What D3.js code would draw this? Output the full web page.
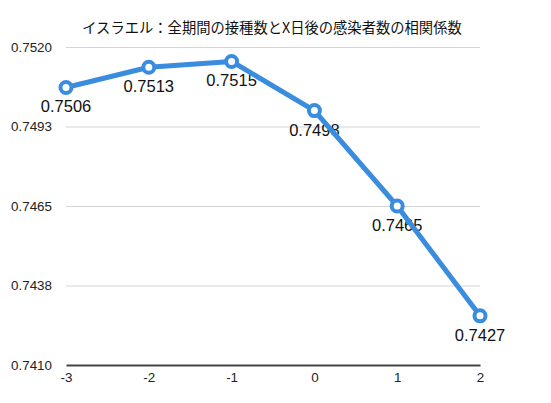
<!DOCTYPE html>
<html>
<head>
<meta charset="utf-8">
<script src="https://cdn.jsdelivr.net/npm/d3@7"></script>
<style>
  body { margin: 0; background: #fff; }
  svg { display: block; }
</style>
</head>
<body>
<svg id="chart"></svg>
<script>
const title = 'イスラエル：全期間の接種数とX日後の感染者数の相関係数';
const days = [-3, -2, -1, 0, 1, 2];
const corr = [0.7506, 0.7513, 0.7515, 0.7498, 0.7465, 0.7427];
const yTicks = [0.7410, 0.74375, 0.7465, 0.74925, 0.7520];
const yTickLabels = ['0.7410', '0.7438', '0.7465', '0.7493', '0.7520'];

const W = 551, H = 403;
const margin = {top: 47, right: 71, bottom: 38, left: 66};
const width = W - margin.left - margin.right;
const height = H - margin.top - margin.bottom;
const blue = '#3a8cde';
const numFont = '"Liberation Sans", Arial, sans-serif';

const svg = d3.select('#chart').attr('width', W).attr('height', H);

svg.append('text')
  .attr('x', 272).attr('y', 33)
  .attr('text-anchor', 'middle')
  .attr('font-family', '"Noto Sans CJK JP", sans-serif')
  .attr('font-size', 14.3)
  .attr('fill', '#111')
  .text(title);

const g = svg.append('g')
  .attr('transform', 'translate(' + margin.left + ',' + margin.top + ')');

const x = d3.scaleLinear().domain([-3, 2]).range([0, width]);
const y = d3.scaleLinear().domain([0.7410, 0.7520]).range([height, 0]);

// gridlines + y labels
const yAxis = g.append('g')
  .call(d3.axisLeft(y).tickValues(yTicks).tickSize(-width).tickPadding(14)
    .tickFormat((d, i) => yTickLabels[i]));
yAxis.select('.domain').remove();
yAxis.selectAll('.tick line').attr('stroke', '#d4d4d4').attr('stroke-width', 1);
yAxis.selectAll('.tick text')
  .attr('font-family', numFont).attr('font-size', 13.4).attr('fill', '#222');
yAxis.selectAll('.tick').filter(d => d === 0.7410).select('line').remove();

// x axis
const xAxis = g.append('g')
  .attr('transform', 'translate(0,' + height + ')')
  .call(d3.axisBottom(x).tickValues(days).tickSize(0).tickPadding(7).tickFormat(d => String(d)));
xAxis.select('.domain').attr('stroke', '#444').attr('stroke-width', 2);
xAxis.selectAll('.tick text')
  .attr('font-family', numFont).attr('font-size', 13.4).attr('fill', '#222');

const data = days.map((d, i) => ({day: d, value: corr[i]}));

// value labels (under the line)
g.selectAll('.val')
  .data(data)
  .enter().append('text')
  .attr('class', 'val')
  .attr('x', d => x(d.day))
  .attr('y', d => y(d.value) + 25)
  .attr('text-anchor', 'middle')
  .attr('font-family', numFont)
  .attr('font-size', 16.5)
  .attr('fill', '#111')
  .text(d => d3.format('.4f')(d.value));

g.append('path')
  .datum(data)
  .attr('fill', 'none')
  .attr('stroke', blue)
  .attr('stroke-width', 5)
  .attr('stroke-linejoin', 'round')
  .attr('d', d3.line().x(d => x(d.day)).y(d => y(d.value)));

g.selectAll('.pt')
  .data(data)
  .enter().append('circle')
  .attr('class', 'pt')
  .attr('cx', d => x(d.day))
  .attr('cy', d => y(d.value))
  .attr('r', 5.5)
  .attr('fill', '#fff')
  .attr('stroke', blue)
  .attr('stroke-width', 4);
</script>
</body>
</html>
